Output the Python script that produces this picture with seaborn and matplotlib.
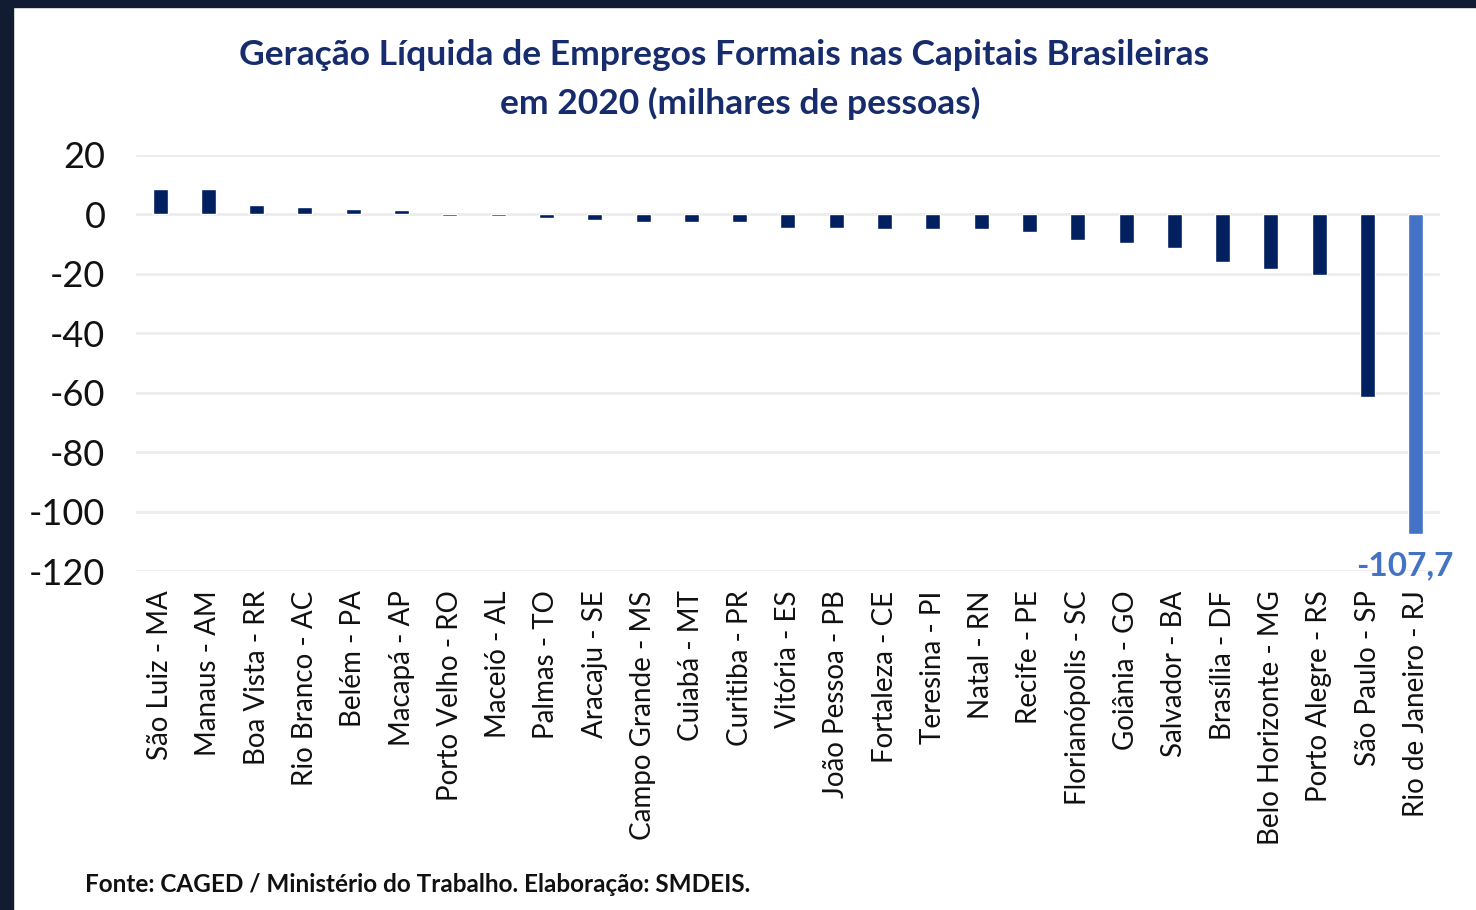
import seaborn as sns
import matplotlib.pyplot as plt
import matplotlib.patches as mpatches
import pandas as pd

# Data (milhares de pessoas)
cidades = ['São Luiz - MA', 'Manaus - AM', 'Boa Vista - RR', 'Rio Branco - AC', 'Belém - PA',
           'Macapá - AP', 'Porto Velho - RO', 'Maceió - AL', 'Palmas - TO', 'Aracaju - SE',
           'Campo Grande - MS', 'Cuiabá - MT', 'Curitiba - PR', 'Vitória - ES', 'João Pessoa - PB',
           'Fortaleza - CE', 'Teresina - PI', 'Natal - RN', 'Recife - PE', 'Florianópolis - SC',
           'Goiânia - GO', 'Salvador - BA', 'Brasília - DF', 'Belo Horizonte - MG',
           'Porto Alegre - RS', 'São Paulo - SP', 'Rio de Janeiro - RJ']
saldo = [8.6, 8.5, 3.3, 2.4, 1.8, 1.5, -0.5, -0.5, -1.2, -1.9,
         -2.5, -2.5, -2.5, -4.5, -4.5, -4.8, -4.8, -4.8, -5.8, -8.5,
         -9.5, -11.4, -16.1, -18.5, -20.4, -61.5, -107.7]
destaque = 'Rio de Janeiro - RJ'
rotulo_destaque = '-107,7'

y_ticks = [20, 0, -20, -40, -60, -80, -100, -120]

df = pd.DataFrame({'cidade': cidades, 'saldo': saldo})

cor_escura = '#002060'
cor_clara = '#4472C4'
paleta = {c: (cor_clara if c == destaque else cor_escura) for c in cidades}

sns.set_style('white')
plt.rcParams['font.family'] = ['Lato', 'DejaVu Sans']
plt.rcParams['axes.unicode_minus'] = False

fig = plt.figure(figsize=(14.76, 9.10), dpi=100)
ax = fig.add_axes([0.0921, 0.3725, 0.8835, 0.4572])

sns.barplot(data=df, x='cidade', y='saldo', hue='cidade', palette=paleta,
            order=cidades, width=0.31, legend=False, saturation=1, ax=ax)

ax.set_ylim(-120, 20)
ax.set_xlim(-0.5, len(cidades) - 0.5)
ax.set_yticks(y_ticks)
ax.set_yticklabels([str(v) for v in y_ticks])
ax.yaxis.grid(True, color='#ececec', linewidth=2)
ax.set_axisbelow(True)
sns.despine(ax=ax, left=True, bottom=True)
ax.set_xlabel('')
ax.set_ylabel('')
ax.tick_params(axis='y', length=0, pad=22, labelsize=26, labelcolor='#111111')
ax.tick_params(axis='x', length=0, pad=14, labelsize=20, labelcolor='#111111')
plt.setp(ax.get_xticklabels(), rotation=90, ha='center', va='top')

# highlighted value label
i = cidades.index(destaque)
ax.annotate(rotulo_destaque, xy=(i, saldo[i]), xytext=(-8, -12), textcoords='offset points',
            ha='center', va='top', fontsize=24, fontweight='bold', color=cor_clara,
            annotation_clip=False)

# title and source
fig.text(0.4905, 0.940, 'Geração Líquida de Empregos Formais nas Capitais Brasileiras',
         ha='center', va='center', fontsize=25.5, fontweight='bold', color='#172c6c')
fig.text(0.5014, 0.886, 'em 2020 (milhares de pessoas)',
         ha='center', va='center', fontsize=25.5, fontweight='bold', color='#172c6c')
fig.text(0.0576, 0.028, 'Fonte: CAGED / Ministério do Trabalho. Elaboração: SMDEIS.',
         ha='left', va='center', fontsize=17.5, fontweight='bold', color='#111111')

# dark frame on top and left
fig.patches.append(mpatches.Rectangle((0, 1 - 7 / 910), 1, 7 / 910, transform=fig.transFigure,
                                      color='#111c33', zorder=10))
fig.patches.append(mpatches.Rectangle((0, 0), 13 / 1476, 1, transform=fig.transFigure,
                                      color='#111c33', zorder=10))

fig.savefig('out.png', dpi=100, facecolor='white')
